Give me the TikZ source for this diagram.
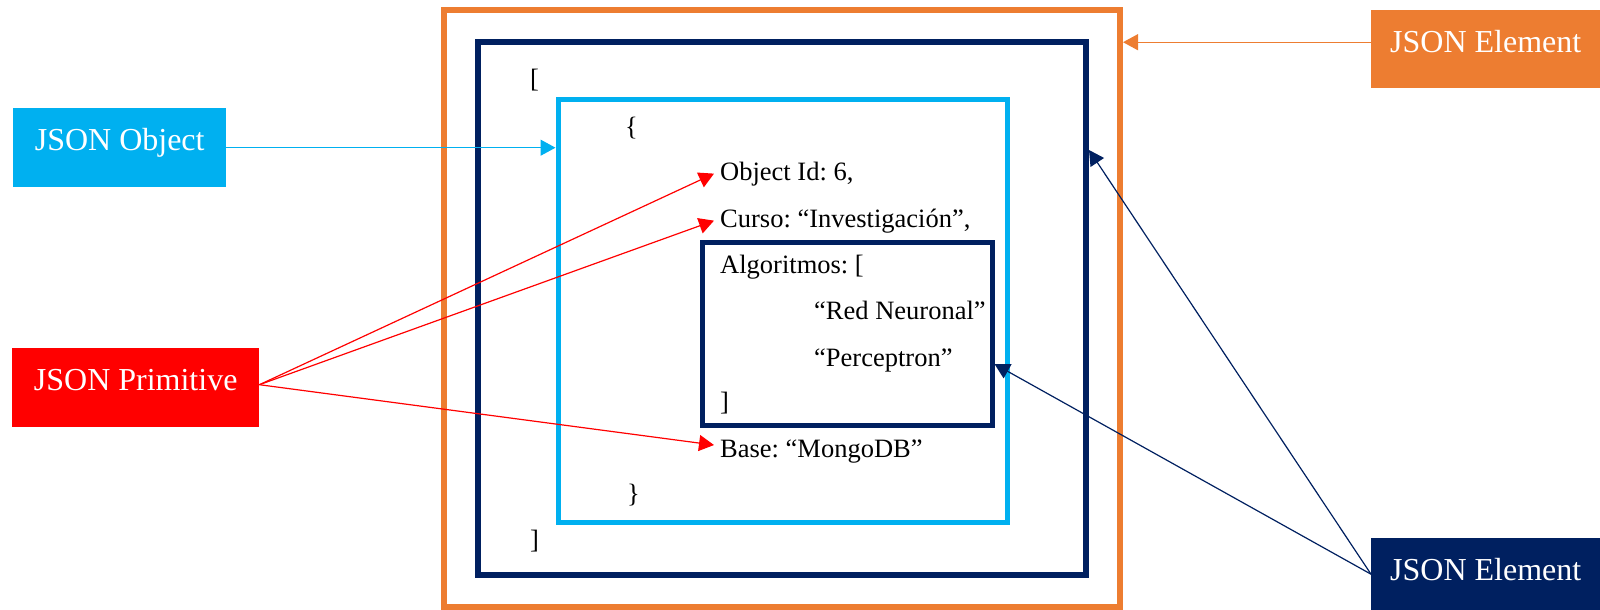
\documentclass[tikz,border=0pt]{standalone}
\usepackage{fontspec}
\setmainfont{Liberation Serif}
\usetikzlibrary{arrows.meta}
\frenchspacing

\definecolor{jorange}{HTML}{ED7D31}
\definecolor{jnavy}{HTML}{002060}
\definecolor{jblue}{HTML}{00B0F0}
\definecolor{jred}{HTML}{FF0000}

\begin{document}
\begin{tikzpicture}[x=1pt,y=-1pt,
  frame/.style={draw=#1, inner sep=0pt},
  tag/.style={fill=#1, text=white, inner sep=0pt, anchor=north west,
    font=\fontsize{32}{38}\selectfont, text height=42pt},
  code/.style={anchor=base west, inner sep=0pt,
    font=\fontsize{26.5}{30}\selectfont},
  conn/.style={draw=#1, line width=1.2pt,
    -{Triangle[length=15pt,width=16pt]}}
]
\useasboundingbox (0,0) rectangle (1600,610);

% nested frames
\node[frame=jorange, line width=6pt, minimum width=676pt, minimum height=597pt]
  (ob) at (782,308.5) {};
\node[frame=jnavy, line width=6pt, minimum width=608pt, minimum height=533pt]
  (outer) at (782,308.5) {};
\node[frame=jblue, line width=5pt, minimum width=449.5pt, minimum height=423pt]
  (lb) at (782.75,310.5) {};
\node[frame=jnavy, line width=5pt, minimum width=289.5pt, minimum height=182.5pt]
  (inner) at (847.25,333.75) {};

% document text
\node[code] (lbrack)  at (530,88)  {[};
\node[code] (lbrace)  at (625,135) {\{};
\node[code] (oid)     at (720,180) {Object Id: 6,};
\node[code] (curso)   at (720,227) {Curso: “Investigación”,};
\node[code] (algo)    at (720,273) {Algoritmos: [};
\node[code] (rn)      at (814,319) {“Red Neuronal”};
\node[code] (perc)    at (814,366) {“Perceptron”};
\node[code] (rbrackin) at (720,410) {]};
\node[code] (base)    at (720,457) {Base: “MongoDB”};
\node[code] (rbrace)  at (627,502) {\}};
\node[code] (rbrack)  at (530,548) {]};

% labels
\node[tag=jblue,   minimum width=213pt, text depth=37pt] (obj)   at (13,108)   {JSON Object};
\node[tag=jred,    minimum width=247pt, text depth=37pt] (prim)  at (12,348)   {JSON Primitive};
\node[tag=jorange, minimum width=229pt, text depth=36pt] (elem1) at (1371,10)  {JSON Element};
\node[tag=jnavy,   minimum width=229pt, text depth=30pt] (elem2) at (1371,538) {JSON Element};

% connectors
\draw[conn=jblue] (obj.east) -- (obj.east -| lb.west);
\draw[conn=jred] ([yshift=3pt]prim.east) -- ([xshift=-6pt]oid.west);
\draw[conn=jred] ([yshift=3pt]prim.east) -- ([xshift=-6pt]curso.west);
\draw[conn=jred] ([yshift=3pt]prim.east) -- ([xshift=-6pt,yshift=6pt]base.west);
\draw[conn=jorange] ([yshift=7pt]elem1.west) -- ([yshift=7pt]elem1.west -| ob.east);
\draw[conn=jnavy] (elem2.west) -- (outer.east |- 0,150);
\draw[conn=jnavy] (elem2.west) -- (inner.east |- 0,364);
\end{tikzpicture}
\end{document}
